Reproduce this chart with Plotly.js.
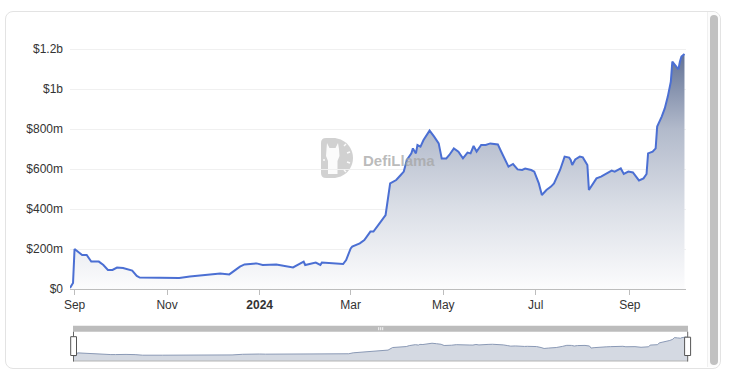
<!DOCTYPE html>
<html>
<head>
<meta charset="utf-8">
<script src="https://cdn.plot.ly/plotly-3.0.1.min.js"></script>
<style>
  html, body { margin: 0; padding: 0; background: #ffffff; }
  #wrap { position: relative; width: 730px; height: 378px; overflow: hidden; background: #fff; }
  #card { position: absolute; left: 5px; top: 11px; width: 714px; height: 356px; border: 1px solid #e3e3e3; border-radius: 8px; background: #fff; }
  #track { position: absolute; left: 707px; top: 12px; width: 12px; height: 355px; border-left: 1px solid #f0f0f0; background: #fcfcfc; border-radius: 0 8px 8px 0; }
  #thumb { position: absolute; left: 710px; top: 15px; width: 8px; height: 350px; background: #c1c1c1; border-radius: 4px; }
  #chart { position: absolute; left: 0; top: 0; width: 730px; height: 378px; }
</style>
</head>
<body>
<div id="wrap">
  <div id="card"></div>
  <div id="track"></div>
  <div id="thumb"></div>
  <div id="chart"></div>
</div>
<script>
// ---- data ----
const dates = ['2023-08-29','2023-08-31','2023-09-01','2023-09-03','2023-09-06','2023-09-09','2023-09-12','2023-09-17','2023-09-20','2023-09-23',
'2023-09-26','2023-09-29','2023-10-03','2023-10-09','2023-10-12','2023-10-14','2023-10-27','2023-11-09','2023-11-16','2023-12-06',
'2023-12-12','2023-12-19','2023-12-22','2023-12-30','2024-01-03','2024-01-12','2024-01-23','2024-01-30','2024-01-31','2024-02-07',
'2024-02-10','2024-02-11','2024-02-25','2024-02-27','2024-03-01','2024-03-02','2024-03-07','2024-03-10','2024-03-14','2024-03-16',
'2024-03-20','2024-03-24','2024-03-27','2024-03-31','2024-04-03','2024-04-05','2024-04-07','2024-04-10','2024-04-11','2024-04-13',
'2024-04-14','2024-04-16','2024-04-18','2024-04-22','2024-04-25','2024-04-28','2024-04-30','2024-05-03','2024-05-05','2024-05-08',
'2024-05-11','2024-05-14','2024-05-17','2024-05-19','2024-05-21','2024-05-23','2024-05-26','2024-05-29','2024-06-01','2024-06-06',
'2024-06-08','2024-06-11','2024-06-13','2024-06-16','2024-06-19','2024-06-22','2024-06-24','2024-06-28','2024-06-30','2024-07-03',
'2024-07-05','2024-07-08','2024-07-11','2024-07-13','2024-07-17','2024-07-20','2024-07-23','2024-07-24','2024-07-25','2024-07-27',
'2024-07-30','2024-08-01','2024-08-04','2024-08-05','2024-08-07','2024-08-10','2024-08-13','2024-08-15','2024-08-18','2024-08-20',
'2024-08-22','2024-08-26','2024-08-28','2024-08-31','2024-09-03','2024-09-07','2024-09-10','2024-09-12','2024-09-13','2024-09-16',
'2024-09-18','2024-09-19','2024-09-22','2024-09-24','2024-09-26','2024-09-28','2024-09-29','2024-10-01','2024-10-03','2024-10-04',
'2024-10-05','2024-10-07'];

const valuesMillions = [5,30,200,187,170,170,137,137,120,95,
95,107,105,92,65,57,57,55,62,77,
73,112,123,128,120,123,108,137,120,132,
120,132,125,145,203,212,228,245,287,287,
328,370,528,545,570,587,645,678,703,678,
720,712,745,792,762,728,653,653,670,703,
687,653,682,678,715,687,720,720,728,723,
690,645,612,625,598,595,602,595,587,528,
470,495,512,528,595,662,657,645,620,648,
662,658,620,495,520,553,562,570,583,592,
587,603,575,587,583,543,553,575,678,687,
703,812,862,903,962,1037,1137,1120,1098,1137,
1162,1175];

const yTickVals = [0, 200e6, 400e6, 600e6, 800e6, 1000e6, 1200e6];
const yTickText = ['$0', '$200m', '$400m', '$600m', '$800m', '$1b', '$1.2b'];
const xTickVals = ['2023-09-01','2023-11-01','2024-01-01','2024-03-01','2024-05-01','2024-07-01','2024-09-01'];
const xTickText = ['Sep','Nov','<b>2024</b>','Mar','May','Jul','Sep'];

const values = valuesMillions.map(v => v * 1e6);
const maxVal = Math.max(...values);

// ---- pixel -> paper helpers (margins are zero, paper == page) ----
const W = 730, H = 378;
const px = x => x / W;
const py = y => 1 - y / H;
function pathP(cmds) {
  let out = [], nums = [];
  for (const c of cmds) {
    if (typeof c === 'string') { out.push(c); }
    else { nums.push(c); if (nums.length === 2) { out.push(px(nums[0]).toFixed(5) + ',' + py(nums[1]).toFixed(5)); nums = []; } }
  }
  return out.join(' ');
}
function rectP(x0, y0, x1, y1, fill, lineColor, lw, layer) {
  return { type: 'rect', xref: 'paper', yref: 'paper', x0: px(x0), x1: px(x1), y0: py(y1), y1: py(y0),
    fillcolor: fill, line: { color: lineColor || fill, width: lw || 0 }, layer: layer || 'above' };
}
function lineP(x0, y0, x1, y1, color, w) {
  return { type: 'line', xref: 'paper', yref: 'paper', x0: px(x0), x1: px(x1), y0: py(y0), y1: py(y1),
    line: { color: color, width: w || 1 }, layer: 'above' };
}

const FONT = 'Liberation Sans, Arial, Helvetica, sans-serif';

const mainTrace = {
  type: 'scatter', mode: 'lines', x: dates, y: values, xaxis: 'x', yaxis: 'y',
  line: { color: '#4b6fd3', width: 2 },
  fill: 'tozeroy',
  fillgradient: {
    type: 'vertical', start: 0, stop: maxVal,
    colorscale: [[0, 'rgb(252,252,253)'], [0.35, 'rgb(218,222,230)'], [0.68, 'rgb(178,186,203)'], [1, 'rgb(98,114,150)']]
  },
  hoverinfo: 'skip'
};

const miniTrace = {
  type: 'scatter', mode: 'lines', x: dates, y: values, xaxis: 'x2', yaxis: 'y2',
  line: { color: '#8a99b5', width: 1 },
  fill: 'tozeroy', fillcolor: '#d4d9e2', hoverinfo: 'skip'
};

// watermark logo (D shape with llama)
const k = 11.05;
const logoD = pathP(['M',326,138,'L',333,138,'C',333+k,138,353,158-k,353,158,'C',353,158+k,333+k,178,333,178,
  'L',326,178,'Q',321,178,321,173,'L',321,143,'Q',321,138,326,138,'Z']);
const llama = pathP(['M',327,143,'L',329.5,148,'L',335.5,148,'L',338,143,'L',339,149,'L',339.5,156,'L',337.5,161,
  'L',337.5,174,'L',328,174,'L',328,161,'L',326,156,'L',326.5,149,'Z']);

const shapes = [
  { type: 'path', xref: 'paper', yref: 'paper', path: logoD, fillcolor: 'rgba(190,190,190,0.7)', line: { width: 0 }, layer: 'below' },
  { type: 'path', xref: 'paper', yref: 'paper', path: llama, fillcolor: 'rgba(255,255,255,0.9)', line: { width: 0 }, layer: 'below' },
  lineP(344, 146, 346, 144, 'rgba(255,255,255,0.9)', 1.5),
  lineP(347, 153, 350, 152, 'rgba(255,255,255,0.9)', 1.5),
  lineP(347, 162, 350, 163, 'rgba(255,255,255,0.9)', 1.5),
  lineP(344, 170, 346, 172, 'rgba(255,255,255,0.9)', 1.5),
  lineP(323, 160, 325, 160, 'rgba(255,255,255,0.9)', 1.5),
  // mini chart: fill below zero baseline
  { type: 'rect', xref: 'x2 domain', yref: 'y2', x0: 0, x1: 1, y0: -3e8, y1: 0, fillcolor: '#d4d9e2', line: { width: 0 }, layer: 'below' },
  // slider decorations
  lineP(73, 361, 688, 361, '#b5b5b5', 1),
  rectP(73, 325.7, 688, 331.7, '#bcbcbc'),
  lineP(378.7, 327.2, 378.7, 330.2, '#f4f4f4', 1),
  lineP(380.7, 327.2, 380.7, 330.2, '#f4f4f4', 1),
  lineP(382.7, 327.2, 382.7, 330.2, '#f4f4f4', 1),
  lineP(73.5, 331.7, 73.5, 361.5, '#666666', 1),
  rectP(70.7, 336.7, 76.5, 355.5, '#ffffff', '#555555', 1),
  lineP(687.7, 331.7, 687.7, 361.5, '#666666', 1),
  rectP(684.6, 337.2, 690.6, 355.5, '#ffffff', '#555555', 1)
];

const layout = {
  width: W, height: H,
  margin: { l: 0, r: 0, t: 0, b: 0 },
  paper_bgcolor: 'rgba(0,0,0,0)', plot_bgcolor: 'rgba(0,0,0,0)',
  showlegend: false, hovermode: false,
  font: { family: FONT, size: 12, color: '#333333' },
  xaxis: {
    type: 'date', domain: [px(70), px(686)], anchor: 'y',
    range: ['2023-08-29', '2024-10-08'],
    tickmode: 'array', tickvals: xTickVals, ticktext: xTickText,
    showline: true, linecolor: '#bdbdbd', linewidth: 1,
    ticks: 'outside', ticklen: 5, tickcolor: '#bdbdbd', tickwidth: 1,
    showgrid: false, zeroline: false, fixedrange: true,
    tickfont: { family: FONT, size: 12, color: '#333333' }
  },
  yaxis: {
    domain: [py(289), py(39)], anchor: 'x',
    range: [0, 1.25e9],
    tickmode: 'array', tickvals: yTickVals, ticktext: yTickText,
    showgrid: true, gridcolor: '#f0f0f0', gridwidth: 1,
    zeroline: false, showline: false, ticks: '', ticklabelstandoff: 6, fixedrange: true,
    tickfont: { family: FONT, size: 12, color: '#333333' }
  },
  xaxis2: {
    type: 'date', domain: [px(73), px(688)], anchor: 'y2',
    range: ['2023-08-29', '2024-10-08'], visible: false, fixedrange: true
  },
  yaxis2: {
    domain: [py(361), py(331.7)], anchor: 'x2',
    range: [-3e8, 1.5e9], visible: false, fixedrange: true
  },
  shapes: shapes,
  annotations: [{
    xref: 'paper', yref: 'paper', x: px(399.5), y: py(160.5), xanchor: 'center', yanchor: 'middle',
    text: '<b>DefiLlama</b>', showarrow: false,
    font: { family: FONT, size: 15, color: 'rgba(165,165,165,0.75)' }
  }]
};

Plotly.newPlot('chart', [mainTrace, miniTrace], layout, { displayModeBar: false, staticPlot: true });
</script>
</body>
</html>
